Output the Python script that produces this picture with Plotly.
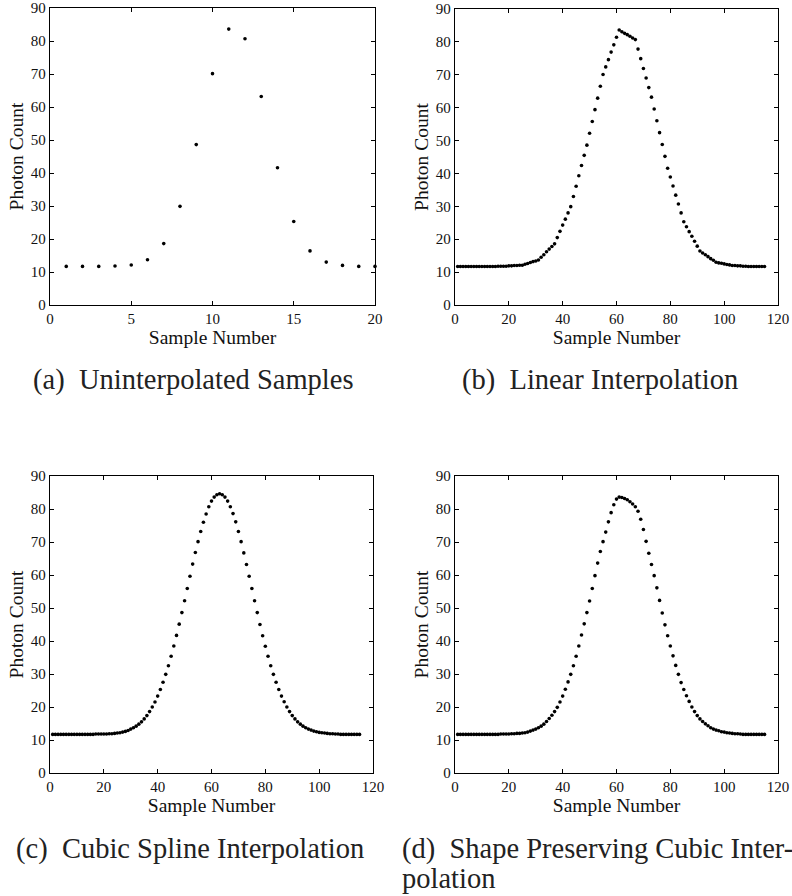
import plotly.graph_objects as go

# ---------------- data ----------------
samples_x = list(range(1, 21))
samples_y = [11.7, 11.7, 11.7, 11.8, 12.1, 13.7, 18.6, 29.9, 48.6, 70.1,
             83.6, 80.7, 63.2, 41.6, 25.3, 16.4, 13.0, 12.0, 11.7, 11.7]

fine_x = list(range(1, 116))

linear_y = [
    11.7, 11.7, 11.7, 11.7, 11.7, 11.7,
    11.7, 11.7, 11.7, 11.7, 11.7, 11.7,
    11.7, 11.7, 11.7, 11.8, 11.8, 11.8,
    11.8, 11.9, 11.9, 12.0, 12.0, 12.1,
    12.1, 12.4, 12.6, 12.9, 13.2, 13.4,
    13.7, 14.5, 15.3, 16.2, 17.0, 17.8,
    18.6, 20.5, 22.4, 24.3, 26.1, 28.0,
    29.9, 33.0, 36.1, 39.3, 42.4, 45.5,
    48.6, 52.2, 55.8, 59.4, 62.9, 66.5,
    70.1, 72.4, 74.6, 76.9, 79.1, 81.4,
    83.6, 83.1, 82.6, 82.2, 81.7, 81.2,
    80.7, 77.8, 74.9, 71.9, 69.0, 66.1,
    63.2, 59.6, 56.0, 52.4, 48.8, 45.2,
    41.6, 38.9, 36.2, 33.4, 30.7, 28.0,
    25.3, 23.8, 22.3, 20.9, 19.4, 17.9,
    16.4, 15.8, 15.3, 14.7, 14.1, 13.6,
    13.0, 12.8, 12.7, 12.5, 12.3, 12.2,
    12.0, 12.0, 11.9, 11.9, 11.8, 11.8,
    11.7, 11.7, 11.7, 11.7, 11.7, 11.7,
    11.7]

spline_y = [
    11.7, 11.7, 11.7, 11.7, 11.7, 11.7,
    11.7, 11.7, 11.7, 11.7, 11.7, 11.7,
    11.7, 11.7, 11.7, 11.7, 11.8, 11.8,
    11.8, 11.8, 11.8, 11.9, 11.9, 12.0,
    12.1, 12.2, 12.4, 12.6, 12.9, 13.3,
    13.7, 14.2, 14.8, 15.5, 16.4, 17.4,
    18.6, 20.0, 21.5, 23.3, 25.3, 27.5,
    29.9, 32.5, 35.4, 38.5, 41.7, 45.1,
    48.6, 52.2, 55.9, 59.6, 63.3, 66.8,
    70.1, 73.2, 76.0, 78.5, 80.7, 82.4,
    83.6, 84.3, 84.6, 84.3, 83.6, 82.4,
    80.7, 78.6, 76.1, 73.2, 70.1, 66.7,
    63.2, 59.6, 55.9, 52.2, 48.6, 45.0,
    41.6, 38.4, 35.4, 32.5, 29.9, 27.5,
    25.3, 23.3, 21.6, 20.0, 18.6, 17.4,
    16.4, 15.5, 14.8, 14.2, 13.7, 13.3,
    13.0, 12.7, 12.5, 12.3, 12.2, 12.1,
    12.0, 11.9, 11.9, 11.8, 11.8, 11.7,
    11.7, 11.7, 11.7, 11.7, 11.7, 11.7,
    11.7]

pchip_y = [
    11.7, 11.7, 11.7, 11.7, 11.7, 11.7,
    11.7, 11.7, 11.7, 11.7, 11.7, 11.7,
    11.7, 11.7, 11.7, 11.7, 11.8, 11.8,
    11.8, 11.8, 11.9, 11.9, 12.0, 12.0,
    12.1, 12.2, 12.4, 12.7, 13.0, 13.3,
    13.7, 14.2, 14.8, 15.6, 16.5, 17.5,
    18.6, 19.9, 21.5, 23.3, 25.4, 27.6,
    29.9, 32.5, 35.4, 38.5, 41.8, 45.2,
    48.6, 52.1, 55.9, 59.8, 63.6, 67.1,
    70.1, 73.0, 76.1, 78.9, 81.3, 83.0,
    83.6, 83.5, 83.2, 82.8, 82.2, 81.5,
    80.7, 79.3, 76.9, 73.8, 70.2, 66.6,
    63.2, 59.8, 56.1, 52.3, 48.5, 44.9,
    41.6, 38.5, 35.5, 32.6, 29.9, 27.4,
    25.3, 23.4, 21.7, 20.0, 18.6, 17.4,
    16.4, 15.6, 14.9, 14.3, 13.7, 13.3,
    13.0, 12.8, 12.5, 12.4, 12.2, 12.1,
    12.0, 11.9, 11.9, 11.8, 11.7, 11.7,
    11.7, 11.7, 11.7, 11.7, 11.7, 11.7,
    11.7]

caption_lines = ["(a)  Uninterpolated Samples", "(b)  Linear Interpolation",
                 "(c)  Cubic Spline Interpolation",
                 "(d)  Shape Preserving Cubic Inter-", "polation"]
x_title = "Sample Number"
y_title = "Photon Count"
y_ticks = [0, 10, 20, 30, 40, 50, 60, 70, 80, 90]
x_ticks_a = [0, 5, 10, 15, 20]
x_ticks_fine = [0, 20, 40, 60, 80, 100, 120]

# ---------------- figure ----------------
W, H = 792, 896
FONT = "Liberation Serif"

fig = go.Figure()

panels = [
    (samples_x, samples_y, "x", "y"),
    (fine_x, linear_y, "x2", "y2"),
    (fine_x, spline_y, "x3", "y3"),
    (fine_x, pchip_y, "x4", "y4"),
]
for xs, ys, xa, ya in panels:
    fig.add_trace(go.Scatter(x=xs, y=ys, mode="markers", xaxis=xa, yaxis=ya,
                             marker=dict(color="black", size=3.6, line=dict(width=0)),
                             cliponaxis=False, showlegend=False))

def px_dom(a, b):
    return [a / W, b / W]

def py_dom(top, bottom):
    return [1 - bottom / H, 1 - top / H]

xdoms = [px_dom(50, 375), px_dom(455, 778), px_dom(50, 373), px_dom(455, 778)]
ydoms = [py_dom(8, 305), py_dom(9, 305), py_dom(476, 773), py_dom(476, 773)]

axis_common = dict(showline=True, linecolor="black", linewidth=1.2, mirror="ticks",
                   ticks="inside", ticklen=4, tickcolor="black", tickwidth=1,
                   showgrid=False, zeroline=False, automargin=False,
                   tickfont=dict(family=FONT, size=15, color="#111"))

for i in range(4):
    sx = "" if i == 0 else str(i + 1)
    xt = x_ticks_a if i == 0 else x_ticks_fine
    xr = [0, 20] if i == 0 else [0, 120]
    fig.update_layout(**{
        "xaxis" + sx: dict(domain=xdoms[i], range=xr, tickvals=xt, anchor="y" + sx,
                           title=dict(text=x_title, standoff=0,
                                      font=dict(family=FONT, size=19.5, color="#111")),
                           **axis_common),
        "yaxis" + sx: dict(domain=ydoms[i], range=[0, 90], tickvals=y_ticks, anchor="x" + sx,
                           title=dict(text=y_title, standoff=2,
                                      font=dict(family=FONT, size=19.5, color="#111")),
                           **axis_common),
    })

cap_pos = [(193, 380, "center"), (600, 380, "center"), (190, 849, "center"),
           (400, 849, "left"), (400, 878, "left")]
anns = []
for (cx, cy, al), txt in zip(cap_pos, caption_lines):
    anns.append(dict(x=cx / W, y=1 - cy / H, xref="paper", yref="paper", text=txt,
                     showarrow=False, xanchor="left" if al == "left" else "center",
                     yanchor="middle", align="left",
                     font=dict(family=FONT, size=28.5, color="#222")))

fig.update_layout(template="none", width=W, height=H, margin=dict(l=0, r=0, t=0, b=0),
                  paper_bgcolor="white", plot_bgcolor="white", annotations=anns,
                  hovermode=False)

fig.write_html("out.html", config={"displayModeBar": False, "staticPlot": True},
               post_script="document.body.style.margin='0';document.body.style.overflow='hidden';")
